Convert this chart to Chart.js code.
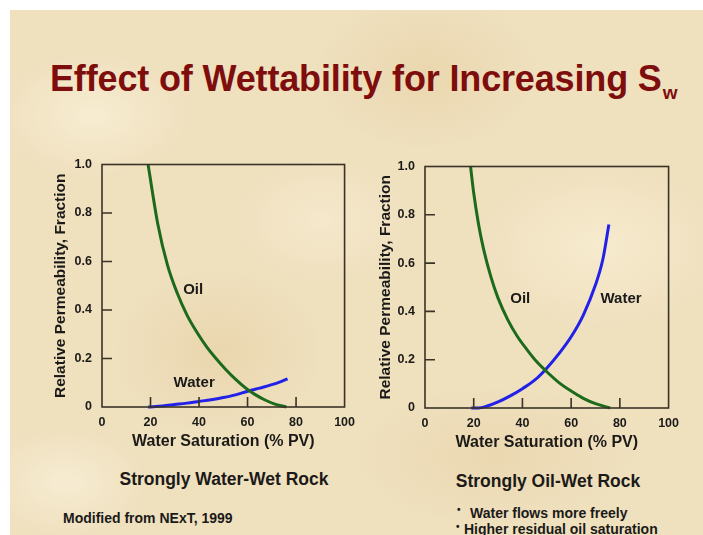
<!DOCTYPE html>
<html>
<head>
<meta charset="utf-8">
<script src="https://cdn.jsdelivr.net/npm/chart.js@4/dist/chart.umd.min.js"></script>
<style>
  html, body { margin: 0; padding: 0; background: #ffffff; }
  body { width: 703px; height: 535px; position: relative; overflow: hidden;
         font-family: "Liberation Sans", Arial, Helvetica, sans-serif; }
  #paper {
    position: absolute; left: 10px; top: 10px; width: 693px; height: 525px;
    background-color: #efe0be;
    background-image:
      radial-gradient(ellipse 140px 90px at 12% 20%, rgba(255,247,226,0.55), rgba(255,247,226,0) 70%),
      radial-gradient(ellipse 160px 110px at 60% 12%, rgba(228,204,156,0.45), rgba(228,204,156,0) 70%),
      radial-gradient(ellipse 180px 120px at 85% 45%, rgba(255,246,222,0.5), rgba(255,246,222,0) 70%),
      radial-gradient(ellipse 150px 120px at 30% 65%, rgba(226,200,150,0.4), rgba(226,200,150,0) 70%),
      radial-gradient(ellipse 200px 100px at 70% 85%, rgba(230,206,160,0.45), rgba(230,206,160,0) 70%),
      radial-gradient(ellipse 120px 80px at 8% 90%, rgba(255,248,230,0.5), rgba(255,248,230,0) 70%),
      radial-gradient(ellipse 130px 90px at 45% 40%, rgba(252,243,220,0.45), rgba(252,243,220,0) 70%);
  }
  .txt { position: absolute; white-space: nowrap; line-height: 1; font-weight: bold; color: #1b1a18; }
  #title { left: 50px; top: 61px; font-size: 36px; color: #7e0d0d; letter-spacing: -0.15px; }
  #title .sub { font-size: 19px; position: relative; top: 8px; margin-left: 1px; }
  canvas { position: absolute; }
  #cLeft { left: 40px; top: 147px; }
  #cRight { left: 363px; top: 149px; }
</style>
</head>
<body>
<div id="paper"></div>
<div id="title" class="txt">Effect of Wettability for Increasing S<span class="sub">w</span></div>
<canvas id="cLeft" width="323" height="308"></canvas>
<canvas id="cRight" width="324" height="307"></canvas>
<div class="txt" style="left:74px; width:300px; text-align:center; top:471px; font-size:17.5px;">Strongly Water-Wet Rock</div>
<div class="txt" style="left:398px; width:300px; text-align:center; top:473px; font-size:17.5px;">Strongly Oil-Wet Rock</div>
<div class="txt" style="left:63px; top:511px; font-size:14px;">Modified from NExT, 1999</div>
<div class="txt" style="left:457px; top:505px; font-size:10px;">&#8226;</div>
<div class="txt" style="left:470px; top:506px; font-size:14px;">Water flows more freely</div>
<div class="txt" style="left:456px; top:522px; font-size:10px;">&#8226;</div>
<div class="txt" style="left:464px; top:522px; font-size:14px;">Higher residual oil saturation</div>
<script>
// Strongly water-wet rock: water saturation (% PV) vs relative permeability
const wwOilSw   = [19, 23, 27, 31, 35, 39, 43, 47, 51, 55, 59, 63, 67, 71, 76];
const wwOilKr   = [1.0, 0.755, 0.585, 0.47, 0.38, 0.31, 0.25, 0.2, 0.155, 0.115, 0.08, 0.052, 0.03, 0.013, 0.0];
const wwWaterSw = [19, 25, 30, 35, 40, 45, 50, 55, 60, 65, 70, 74, 76.5];
const wwWaterKr = [0, 0.004, 0.01, 0.016, 0.023, 0.03, 0.039, 0.05, 0.065, 0.078, 0.092, 0.106, 0.116];

// Strongly oil-wet rock
const owOilSw   = [18.7, 20, 22, 24, 27, 30, 34, 38, 42, 46, 50, 55, 60, 65, 70, 76];
const owOilKr   = [1.0, 0.89, 0.76, 0.66, 0.545, 0.455, 0.365, 0.295, 0.24, 0.19, 0.15, 0.105, 0.07, 0.04, 0.018, 0.0];
const owWaterSw = [19, 22, 25, 30, 35, 40, 45, 50, 55, 60, 65, 70, 73, 75.5];
const owWaterKr = [0, 0, 0.006, 0.025, 0.05, 0.08, 0.115, 0.165, 0.225, 0.295, 0.385, 0.51, 0.615, 0.76];

// Axis ticks
const swTicks = [0, 20, 40, 60, 80, 100];
const krTicks = [0, 0.2, 0.4, 0.6, 0.8, 1.0];
const krTickLabels = ['0', '0.2', '0.4', '0.6', '0.8', '1.0'];

const xTitle = 'Water Saturation (% PV)';
const yTitle = 'Relative Permeability, Fraction';

const FONT = '"Liberation Sans", Arial, Helvetica, sans-serif';
const INK = '#1b1a18';
const FRAME = '#3a3226';
const OIL = '#1c6a1c';
const WATER = '#2121e8';

const pts = (xs, ys) => xs.map((x, i) => ({ x, y: ys[i] }));

// Box around the plot, inward tick marks and in-plot curve names
const framePlugin = {
  id: 'frameBox',
  afterDraw(chart, args, opts) {
    const { ctx, chartArea: a, scales: { x, y } } = chart;
    ctx.save();
    ctx.strokeStyle = FRAME;
    ctx.lineWidth = 1.6;
    ctx.strokeRect(a.left, a.top, a.right - a.left, a.bottom - a.top);
    ctx.beginPath();
    swTicks.slice(1, -1).forEach(v => {
      const px = x.getPixelForValue(v);
      ctx.moveTo(px, a.bottom);
      ctx.lineTo(px, a.bottom - 10);
    });
    krTicks.slice(1, -1).forEach(v => {
      const py = y.getPixelForValue(v);
      ctx.moveTo(a.left, py);
      ctx.lineTo(a.left + 10, py);
    });
    ctx.stroke();
    ctx.fillStyle = INK;
    ctx.font = 'bold 15px ' + FONT;
    ctx.textAlign = 'center';
    ctx.textBaseline = 'middle';
    (opts.labels || []).forEach(l => {
      ctx.fillText(l.text, x.getPixelForValue(l.x), y.getPixelForValue(l.y));
    });
    ctx.restore();
  }
};

function makeChart(id, oil, water, labels, yTitlePad) {
  return new Chart(document.getElementById(id), {
    type: 'scatter',
    data: {
      datasets: [
        { label: 'Oil', data: oil, showLine: true, borderColor: OIL, borderWidth: 3,
          pointRadius: 0, cubicInterpolationMode: 'monotone', clip: 4 },
        { label: 'Water', data: water, showLine: true, borderColor: WATER, borderWidth: 3,
          pointRadius: 0, cubicInterpolationMode: 'monotone', clip: 4 }
      ]
    },
    options: {
      responsive: false,
      animation: false,
      devicePixelRatio: 1,
      layout: { padding: { left: 0, top: 11, right: 16, bottom: 0 } },
      plugins: {
        legend: { display: false },
        tooltip: { enabled: false },
        frameBox: { labels }
      },
      scales: {
        x: {
          type: 'linear', min: 0, max: 100,
          grid: { display: false, drawTicks: false }, border: { display: false },
          afterBuildTicks: s => { s.ticks = swTicks.map(v => ({ value: v })); },
          ticks: { padding: 8, color: INK, font: { family: FONT, size: 12.5, weight: 'bold' },
                   maxRotation: 0, autoSkip: false },
          title: { display: true, text: xTitle, color: INK, padding: { top: 0, bottom: 4 },
                   font: { family: FONT, size: 16, weight: 'bold' } },
          afterFit: s => { s.height = 48; }
        },
        y: {
          type: 'linear', min: 0, max: 1,
          grid: { display: false, drawTicks: false }, border: { display: false },
          afterBuildTicks: s => { s.ticks = krTicks.map(v => ({ value: v })); },
          ticks: { padding: 10, color: INK, font: { family: FONT, size: 12.5, weight: 'bold' },
                   autoSkip: false,
                   callback: v => krTickLabels[krTicks.indexOf(v)] },
          title: { display: true, text: yTitle, color: INK, padding: { top: yTitlePad, bottom: 0 },
                   font: { family: FONT, size: 15.5, weight: 'bold' } },
          afterFit: s => { s.width = 62; }
        }
      }
    },
    plugins: [framePlugin]
  });
}

makeChart('cLeft', pts(wwOilSw, wwOilKr), pts(wwWaterSw, wwWaterKr),
  [{ text: 'Oil', x: 37.6, y: 0.484 }, { text: 'Water', x: 38, y: 0.098 }], 11.7);
makeChart('cRight', pts(owOilSw, owOilKr), pts(owWaterSw, owWaterKr),
  [{ text: 'Oil', x: 39.1, y: 0.45 }, { text: 'Water', x: 80.5, y: 0.45 }], 13);
</script>
</body>
</html>
